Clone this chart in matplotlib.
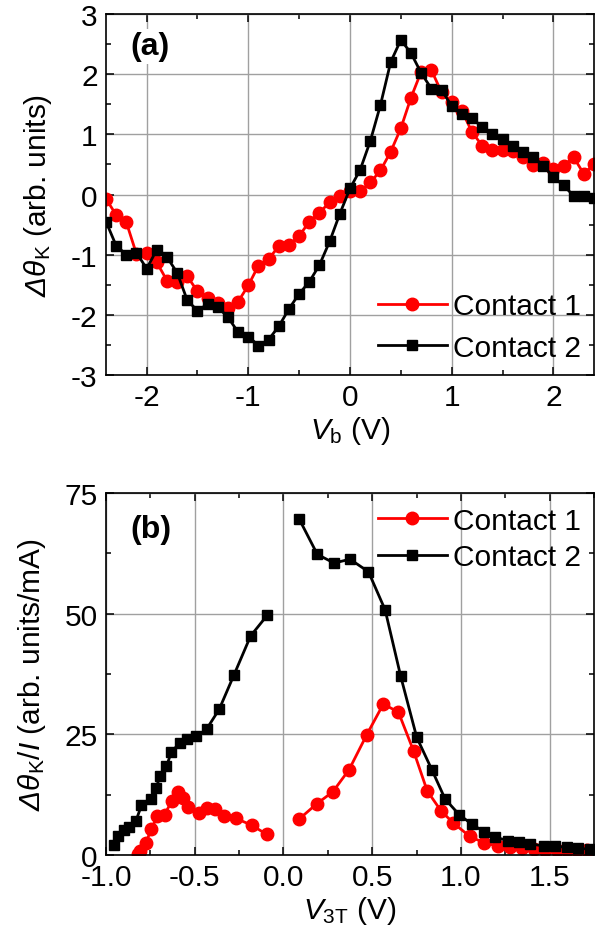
import matplotlib
matplotlib.use("Agg")
import matplotlib.pyplot as plt
from matplotlib.ticker import MultipleLocator

plt.rcParams['font.family'] = 'Liberation Sans'
plt.rcParams['mathtext.fontset'] = 'custom'
plt.rcParams['mathtext.rm'] = 'Liberation Sans'
plt.rcParams['mathtext.it'] = 'Liberation Sans:italic'
plt.rcParams['mathtext.sf'] = 'Liberation Sans:italic'
plt.rcParams['axes.unicode_minus'] = False
plt.rcParams['font.size'] = 21.5

# ---- panel (a): both contacts sampled every 0.1 V from -2.4 to 2.4 V
vb = [-2.4, -2.3, -2.2, -2.1, -2.0, -1.9, -1.8, -1.7, -1.6, -1.5, -1.4, -1.3, -1.2,
      -1.1, -1.0, -0.9, -0.8, -0.7, -0.6, -0.5, -0.4, -0.3, -0.2, -0.1, 0.0,
      0.1, 0.2, 0.3, 0.4, 0.5, 0.6, 0.7, 0.8, 0.9, 1.0, 1.1, 1.2, 1.3, 1.4,
      1.5, 1.6, 1.7, 1.8, 1.9, 2.0, 2.1, 2.2, 2.3, 2.4]
a_contact1 = [-0.07, -0.34, -0.46, -0.99, -0.97, -1.13, -1.43, -1.45, -1.36, -1.61,
              -1.72, -1.80, -1.89, -1.78, -1.51, -1.18, -1.07, -0.86, -0.84, -0.69,
              -0.45, -0.30, -0.13, -0.03, 0.05, 0.05, 0.20, 0.40, 0.71, 1.10,
              1.61, 2.04, 2.07, 1.70, 1.53, 1.39, 1.04, 0.81, 0.74, 0.74,
              0.73, 0.62, 0.49, 0.52, 0.43, 0.48, 0.62, 0.34, 0.51]
a_contact2 = [-0.45, -0.85, -1.00, -0.97, -1.23, -0.92, -1.04, -1.30, -1.76, -1.93,
              -1.82, -1.87, -2.04, -2.29, -2.36, -2.51, -2.41, -2.19, -1.90, -1.65,
              -1.45, -1.17, -0.78, -0.32, 0.10, 0.41, 0.89, 1.49, 2.20, 2.57,
              2.35, 2.02, 1.76, 1.74, 1.47, 1.34, 1.27, 1.12, 1.00, 0.92,
              0.81, 0.71, 0.63, 0.48, 0.29, 0.15, -0.02, -0.02, -0.05]

# ---- panel (b): negative and positive V3T branches
b1_neg_x = [-0.82, -0.81, -0.775, -0.745, -0.71, -0.67, -0.63, -0.595, -0.565, -0.537,
            -0.475, -0.433, -0.387, -0.336, -0.268, -0.18, -0.095]
b1_neg_y = [0.3, 0.9, 2.5, 5.4, 8.0, 8.3, 11.2, 13.0, 11.9, 10.0,
            8.8, 9.7, 9.5, 8.1, 7.6, 6.2, 4.3]
b1_pos_x = [0.09, 0.187, 0.278, 0.37, 0.469, 0.563, 0.648, 0.733, 0.81, 0.887,
            0.958, 1.049, 1.131, 1.207, 1.278, 1.344, 1.41, 1.476, 1.54, 1.60,
            1.655, 1.71]
b1_pos_y = [7.5, 10.6, 13.1, 17.7, 24.9, 31.3, 29.6, 21.6, 13.3, 9.2,
            6.6, 3.9, 2.5, 1.9, 1.6, 1.4, 1.2, 1.1, 1.0, 1.0,
            1.0, 1.0]
b2_neg_x = [-0.957, -0.932, -0.90, -0.87, -0.832, -0.80, -0.749, -0.72, -0.693, -0.659,
            -0.631, -0.584, -0.543, -0.49, -0.433, -0.362, -0.279, -0.185, -0.091]
b2_neg_y = [2.1, 4.0, 5.2, 5.9, 7.0, 10.3, 11.7, 13.8, 16.4, 18.4,
            21.4, 23.2, 24.0, 24.6, 26.1, 30.2, 37.3, 45.4, 49.7]
b2_pos_x = [0.089, 0.191, 0.285, 0.375, 0.479, 0.573, 0.661, 0.751, 0.836, 0.911,
            0.992, 1.062, 1.131, 1.194, 1.263, 1.325, 1.391, 1.466, 1.532, 1.60,
            1.66, 1.73]
b2_pos_y = [69.6, 62.3, 60.5, 61.3, 58.7, 50.8, 37.0, 24.4, 17.7, 11.6,
            8.3, 6.4, 4.8, 3.7, 3.0, 2.6, 2.3, 1.9, 1.8, 1.6,
            1.4, 1.2]

red = '#ff0000'
c1 = dict(color=red, marker='o', ms=9, lw=2, mec=red)
c2 = dict(color='black', marker='s', ms=7.5, lw=2)
fs = 21.5

fig = plt.figure(figsize=(6.07, 9.37), dpi=100)
ax1 = fig.add_axes([0.1746, 0.5987, 0.804, 0.3853])
ax2 = fig.add_axes([0.1746, 0.0864, 0.804, 0.3863])

for ax in (ax1, ax2):
    ax.grid(True, which='major', color='#a0a0a0', lw=1)
    ax.set_axisbelow(True)
    ax.tick_params(which='both', direction='in', top=True, right=True, labelsize=fs)
    ax.tick_params(which='major', length=6, width=1.1, pad=6)
    ax.tick_params(which='minor', length=3.5, width=1.1)
    for s in ax.spines.values():
        s.set_linewidth(1.2)

ax1.plot(vb, a_contact1, label='Contact 1', **c1)
ax1.plot(vb, a_contact2, label='Contact 2', **c2)
ax1.set_xlim(-2.4, 2.4)
ax1.set_ylim(-3, 3)
ax1.xaxis.set_major_locator(MultipleLocator(1))
ax1.xaxis.set_minor_locator(MultipleLocator(0.5))
ax1.yaxis.set_major_locator(MultipleLocator(1))
ax1.yaxis.set_minor_locator(MultipleLocator(0.5))
ax1.set_xlabel(r'$\mathit{V}_\mathrm{b}$ (V)', fontsize=fs, labelpad=2)
ax1.set_ylabel(r'$\mathsf{\Delta\theta}_\mathrm{K}$ (arb. units)', fontsize=fs, labelpad=12)
ax1.legend(loc='lower right', frameon=False, fontsize=fs, handlelength=2.3,
           handletextpad=0.2, labelspacing=0.45, borderaxespad=0.25, borderpad=0.2)
ax1.text(0.05, 0.91, '(a)', transform=ax1.transAxes, fontsize=23, fontweight='bold',
         va='center', ha='left', bbox=dict(facecolor='white', edgecolor='none', pad=2))

ax2.plot(b1_neg_x, b1_neg_y, label='Contact 1', **c1)
ax2.plot(b1_pos_x, b1_pos_y, **c1)
ax2.plot(b2_neg_x, b2_neg_y, label='Contact 2', **c2)
ax2.plot(b2_pos_x, b2_pos_y, **c2)
ax2.set_xlim(-1.0, 1.75)
ax2.set_ylim(0, 75)
ax2.xaxis.set_major_locator(MultipleLocator(0.5))
ax2.xaxis.set_minor_locator(MultipleLocator(0.25))
ax2.yaxis.set_major_locator(MultipleLocator(25))
ax2.yaxis.set_minor_locator(MultipleLocator(12.5))
ax2.xaxis.set_major_formatter(plt.FuncFormatter(lambda v, p: f'{v:.1f}'))
ax2.set_xlabel(r'$\mathit{V}_\mathrm{3T}$ (V)', fontsize=fs, labelpad=2)
ax2.set_ylabel(r'$\mathsf{\Delta\theta}_\mathrm{K}/\mathit{I}$ (arb. units/mA)', fontsize=fs, labelpad=12)
ax2.legend(loc='upper right', frameon=False, fontsize=fs, handlelength=2.3,
           handletextpad=0.2, labelspacing=0.3, borderaxespad=0.25, borderpad=0.2)
ax2.text(0.05, 0.90, '(b)', transform=ax2.transAxes, fontsize=23, fontweight='bold',
         va='center', ha='left', bbox=dict(facecolor='white', edgecolor='none', pad=2))

fig.savefig('out.png', dpi=100)
